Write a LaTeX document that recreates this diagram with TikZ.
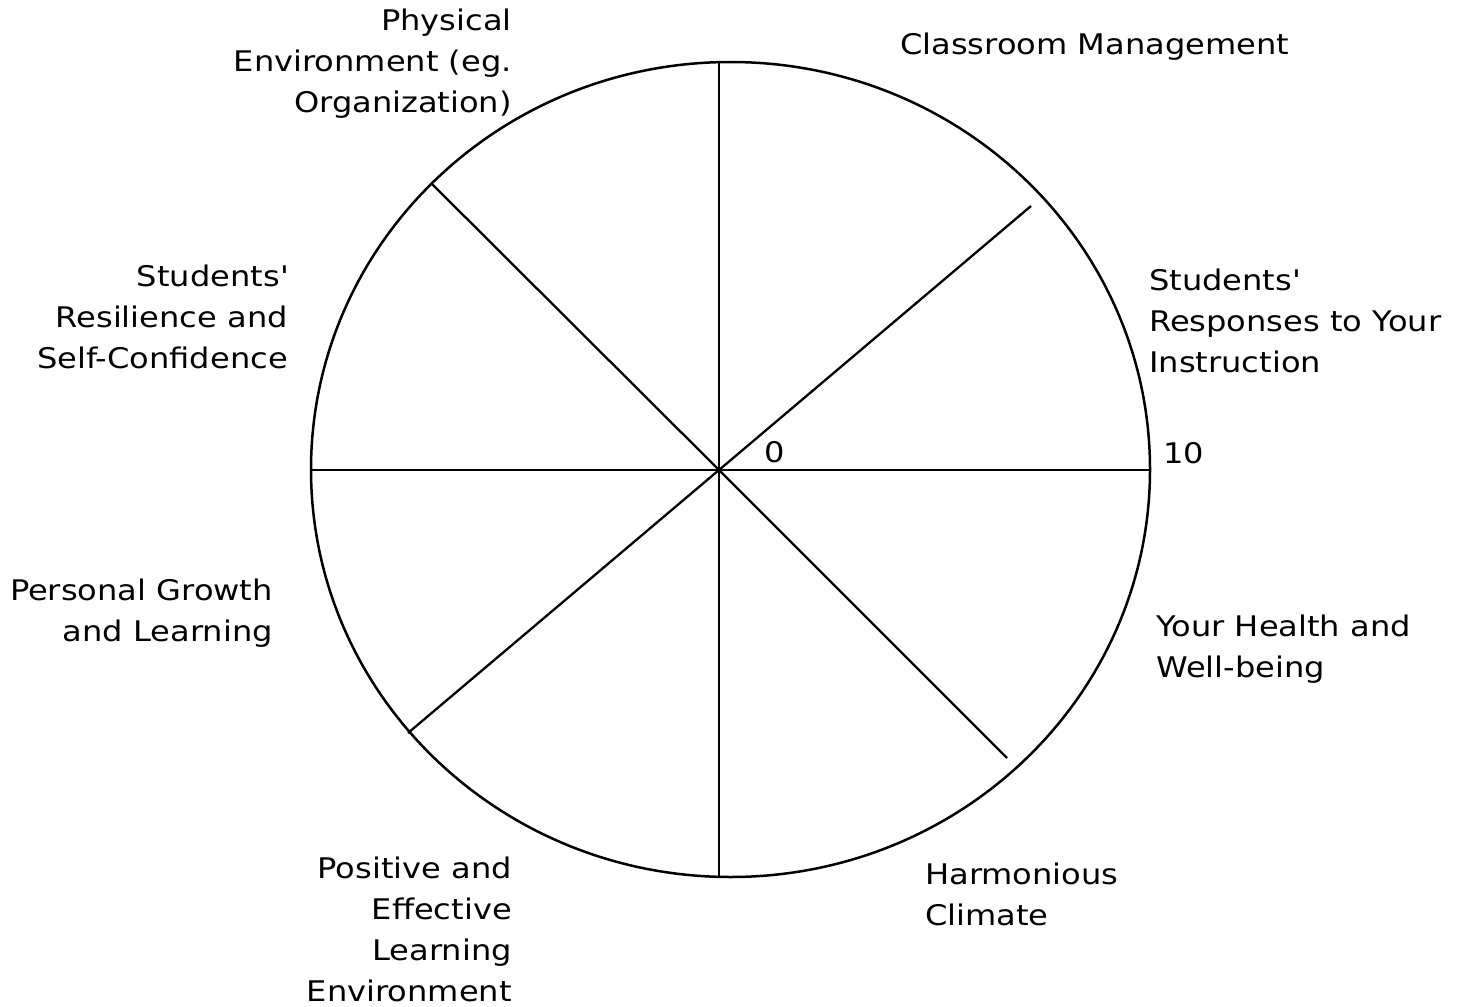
\documentclass[tikz,border=0pt]{standalone}
\usepackage{fontspec}
\setmainfont{DejaVu Sans}[FakeStretch=1.13]
\begin{document}
\begin{tikzpicture}[x=1pt,y=-1pt,
  wheel/.style={line width=2.5pt},
  spoke/.style={line width=2.3pt},
  lblL/.style={inner sep=0pt,anchor=base west,align=left,font=\fontsize{28.4}{41}\selectfont},
  lblR/.style={inner sep=0pt,anchor=base east,align=right,font=\fontsize{28.4}{41}\selectfont},
  nums/.style={inner sep=0pt,anchor=base west,font=\fontsize{28.4}{41}\selectfont}]
\useasboundingbox (0,0) rectangle (1463,1006);
\draw[wheel] (730.5,469.5) ellipse [x radius=419.5, y radius=407.5];
\coordinate (c) at (719,470);
\coordinate (e1) at (1150,470);
\coordinate (e2) at (1031,206);
\coordinate (e3) at (719,62);
\coordinate (e4) at (431,183);
\coordinate (e5) at (311,470);
\coordinate (e6) at (408,733);
\coordinate (e7) at (719,877);
\coordinate (e8) at (1007,758);
\foreach \i in {1,...,8} \draw[spoke] (c) -- (e\i);
\node[lblR] (phys) at (512,113) {Physical\\Environment (eg.\\Organization)};
\node[lblL] (cm) at (900,55) {Classroom Management};
\node[lblL] (resp) at (1149,372) {Students\textquotesingle\\Responses to Your\\Instruction};
\node[nums] (ten) at (1163,463) {10};
\node[nums] (zero) at (764,462) {0};
\node[lblL] (health) at (1156,677) {Your Health and\\Well-being};
\node[lblL] (harm) at (925,925) {Harmonious\\Climate};
\node[lblR] (pos) at (512,1001) {Positive and\\Effective\\Learning\\Environment};
\node[lblR] (pers) at (273,641) {Personal Growth\\and Learning};
\node[lblR] (resil) at (288,368) {Students\textquotesingle\\Resilience and\\Self-Confidence};
\end{tikzpicture}
\end{document}
